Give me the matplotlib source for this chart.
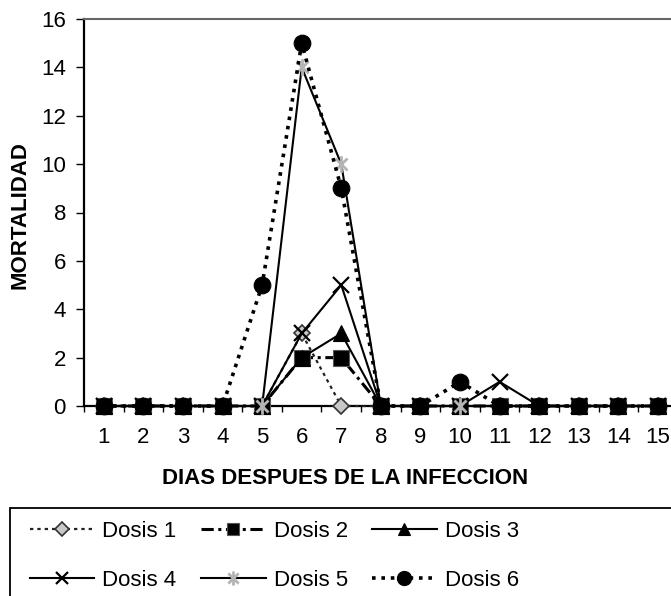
import matplotlib
matplotlib.use("Agg")
import matplotlib.pyplot as plt
from matplotlib.path import Path
from matplotlib.patches import Rectangle
from matplotlib.ticker import MultipleLocator, FixedLocator

plt.rcParams['font.family'] = ['Liberation Sans', 'DejaVu Sans']

dias = list(range(1, 16))
dosis1 = [0, 0, 0, 0, 0, 3, 0, 0, 0, 0, 0, 0, 0, 0, 0]
dosis2 = [0, 0, 0, 0, 0, 2, 2, 0, 0, 0, 0, 0, 0, 0, 0]
dosis3 = [0, 0, 0, 0, 0, 2, 3, 0, 0, 0, 0, 0, 0, 0, 0]
dosis4 = [0, 0, 0, 0, 0, 3, 5, 0, 0, 0, 1, 0, 0, 0, 0]
dosis5 = [0, 0, 0, 0, 0, 14, 10, 0, 0, 0, 0, 0, 0, 0, 0]
dosis6 = [0, 0, 0, 0, 5, 15, 9, 0, 0, 1, 0, 0, 0, 0, 0]
labels = ['Dosis 1', 'Dosis 2', 'Dosis 3', 'Dosis 4', 'Dosis 5', 'Dosis 6']

W, H = 671, 596
FS = 16
fig = plt.figure(figsize=(W / 100, H / 100), dpi=100)
ax = fig.add_axes([84 / W, (H - 406) / H, (W - 84) / W, 387 / H])

asterisk = Path([(0, -1), (0, 1), (-0.72, -0.72), (0.72, 0.72), (-0.72, 0.72), (0.72, -0.72)],
                [Path.MOVETO, Path.LINETO, Path.MOVETO, Path.LINETO, Path.MOVETO, Path.LINETO])

styles = [
    dict(color='#222222', lw=1.6, dashes=(1.5, 1.8), marker='D', ms=8.5, mfc='#c8c8c8', mec='#333333', mew=1.2),
    dict(color='black', lw=2.2, dashes=(4, 1.5, 1, 1.5), marker='s', ms=11, mfc='black', mec='#555555', mew=0.8),
    dict(color='black', lw=1.5, ls='-', marker='^', ms=11, mfc='black', mec='black', mew=0.8),
    dict(color='black', lw=1.5, ls='-', marker='x', ms=11, mfc='black', mec='black', mew=1.6),
    dict(color='black', lw=1.5, ls='-', marker=asterisk, ms=12, mfc='none', mec='#b4b4b4', mew=2.0),
    dict(color='black', lw=2.6, dashes=(1, 1.6), marker='o', ms=12, mfc='black', mec='black', mew=0.8),
]
series = [dosis1, dosis2, dosis3, dosis4, dosis5, dosis6]
handles = []
for i, (vals, st, lab) in enumerate(zip(series, styles, labels)):
    h, = ax.plot(dias, vals, label=lab, clip_on=False, zorder=3 + i, **st)
    handles.append(h)

ax.set_xlim(0.5, 15.33)
ax.set_ylim(0, 16)
ax.yaxis.set_major_locator(MultipleLocator(2))
ax.xaxis.set_major_locator(FixedLocator(dias))
ax.xaxis.set_minor_locator(FixedLocator([x + 0.5 for x in range(0, 15)]))
ax.tick_params(axis='x', which='major', length=0, pad=15, labelsize=FS)
ax.tick_params(axis='x', which='minor', length=4, width=1, direction='out')
ax.tick_params(axis='y', which='major', length=6, width=1, direction='out', pad=7, labelsize=FS)

for s in ['left', 'bottom']:
    ax.spines[s].set_linewidth(1.6)
    ax.spines[s].set_color('black')
ax.spines['top'].set_color('#666666')
ax.spines['top'].set_linewidth(1.5)
ax.spines['right'].set_visible(False)

ax.set_xlabel('DIAS DESPUES DE LA INFECCION', fontsize=FS, fontweight='bold')
ax.xaxis.set_label_coords((345 - 84) / 587, (406 - 478) / 387)
ax.xaxis.label.set_va('center')
ax.set_ylabel('MORTALIDAD', fontsize=FS, fontweight='bold')
ax.yaxis.set_label_coords((20 - 84) / 587, (406 - 215) / 387)
ax.yaxis.label.set_va('center')

# legend frame
fig.patches.append(Rectangle((10 / W, -0.05), (W + 20) / W, (H - 508) / H + 0.05,
                             transform=fig.transFigure, fill=False, ec='black', lw=1.3))
order = [0, 3, 1, 4, 2, 5]
fig.legend([handles[i] for i in order], [labels[i] for i in order], ncol=3,
           loc='upper left', bbox_to_anchor=(30 / W, 1 - 521 / H), frameon=False,
           fontsize=FS, handlelength=2.9, handletextpad=0.36, columnspacing=1.1,
           labelspacing=1.25, borderpad=0, borderaxespad=0, numpoints=1, markerscale=0.85)

fig.savefig('out.png', dpi=100)
